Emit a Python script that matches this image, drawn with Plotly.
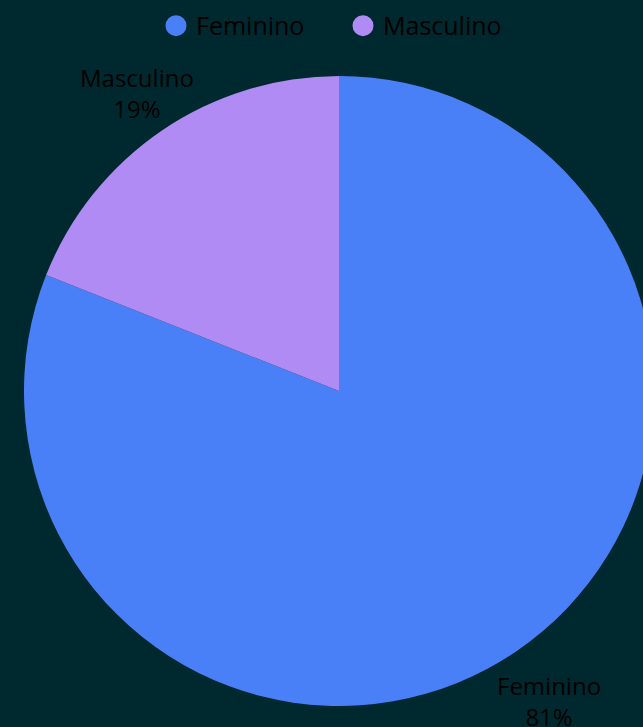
import math
import plotly.graph_objects as go

labels = ["Feminino", "Masculino"]
values = [81, 19]
colors = ["#4a80f7", "#b08bf4"]

BG = "#00282f"
FONT = "Open Sans"
FS = 24
W, H = 654, 727
ML, MR, MT, MB = 24, 0, 76, 21
PW, PH = W - ML - MR, H - MT - MB

fig = go.Figure()
fig.add_trace(go.Pie(
    labels=labels, values=values, sort=False, direction="clockwise", rotation=0,
    marker=dict(colors=colors, line=dict(width=0)),
    textinfo="none", hoverinfo="label+percent", showlegend=False,
))
for lab, col in zip(labels, colors):
    fig.add_trace(go.Scatter(
        x=[None], y=[None], mode="markers", name=lab,
        marker=dict(symbol="circle", size=16, color=col, line=dict(color=col, width=5)),
        showlegend=True, hoverinfo="skip",
    ))

# outside labels placed along each slice's mid-angle
total = sum(values)
cx, cy = PW / 2, PH / 2
r = min(PW, PH) / 2
k = 1.165
annotations = []
cum = 0
for lab, v in zip(labels, values):
    mid = (cum + v / 2) / total * 2 * math.pi
    cum += v
    px = cx + k * r * math.sin(mid)
    py = cy - k * r * math.cos(mid)
    annotations.append(dict(
        x=px / PW, y=1 - py / PH, xref="paper", yref="paper", showarrow=False,
        xanchor="center", yanchor="middle", xshift=4, yshift=-6,
        text=f"{lab}<br>{round(v / total * 100)}%",
        font=dict(family=FONT, size=FS, color="#000000"),
    ))

fig.update_layout(
    width=W, height=H,
    margin=dict(l=ML, r=MR, t=MT, b=MB, pad=0),
    paper_bgcolor=BG, plot_bgcolor=BG,
    font=dict(family=FONT, size=FS, color="#000000"),
    xaxis=dict(visible=False), yaxis=dict(visible=False),
    showlegend=True,
    legend=dict(
        orientation="h", xref="container", yref="container",
        x=156 / W, xanchor="left", y=0.996, yanchor="top",
        entrywidth=142, entrywidthmode="pixels",
        font=dict(family=FONT, size=25, color="#000000"),
        bgcolor="rgba(0,0,0,0)",
    ),
    annotations=annotations,
)

fig.write_html(
    "out.html",
    config={"displayModeBar": False},
    post_script="document.body.style.margin='0';document.body.style.overflow='hidden';",
)
